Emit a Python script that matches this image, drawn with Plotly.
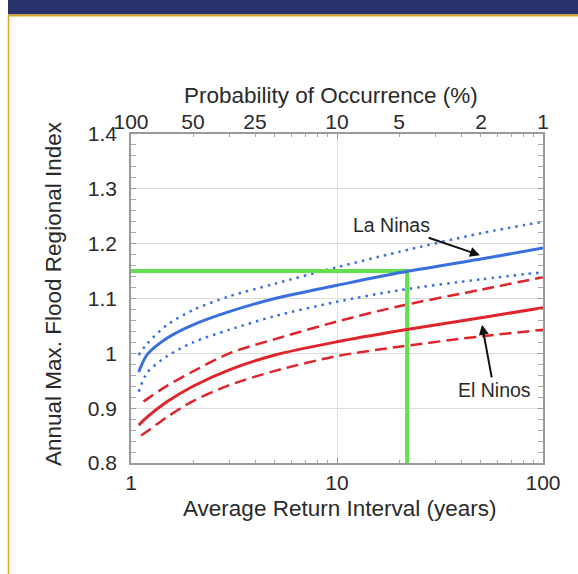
import plotly.graph_objects as go

# ---- data ----
T_grid = [1.09, 1.2, 1.5, 2, 3, 5, 10, 20, 50, 100]
la_nina_mid = [0.966, 0.998, 1.028, 1.052, 1.076, 1.100, 1.124, 1.147, 1.172, 1.192]
la_nina_up = [0.997, 1.018, 1.052, 1.079, 1.104, 1.127, 1.157, 1.185, 1.219, 1.240]
la_nina_lo = [0.930, 0.965, 0.995, 1.020, 1.043, 1.068, 1.094, 1.115, 1.135, 1.148]
el_nino_mid = [0.869, 0.884, 0.912, 0.940, 0.970, 0.997, 1.021, 1.041, 1.065, 1.083]
T_en_up = [1.15, 1.2, 1.5, 2, 3, 5, 10, 20, 50, 100]
el_nino_up = [0.912, 0.917, 0.941, 0.967, 1.000, 1.026, 1.058, 1.086, 1.116, 1.139]
T_en_lo = [1.12, 1.2, 1.5, 2, 3, 5, 10, 20, 50, 100]
el_nino_lo = [0.850, 0.858, 0.884, 0.913, 0.942, 0.968, 0.995, 1.012, 1.031, 1.043]

guide_T = 21.9
guide_level = 1.15

prob_vals = [1, 2, 4, 10, 20, 50, 100]
prob_text = ["100", "50", "25", "10", "5", "2", "1"]
y_ticks = [0.8, 0.9, 1.0, 1.1, 1.2, 1.3, 1.4]
y_text = ["0.8", "0.9", "1", "1.1", "1.2", "1.3", "1.4"]

BLUE = "#3a6fe0"
RED = "#e0242c"
GREEN = "#62e050"
FONT = "Liberation Sans, Arial, sans-serif"
TXT = "#2a2a2a"

fig = go.Figure()
fig.add_trace(go.Scatter(x=T_grid, y=la_nina_up, mode="lines",
                         line=dict(color=BLUE, width=2.5, dash="2.5px,5px", shape="spline", smoothing=0.8)))
fig.add_trace(go.Scatter(x=T_grid, y=la_nina_lo, mode="lines",
                         line=dict(color=BLUE, width=2.5, dash="2.5px,5px", shape="spline", smoothing=0.8)))
fig.add_trace(go.Scatter(x=T_en_up, y=el_nino_up, mode="lines",
                         line=dict(color=RED, width=2.5, dash="12px,6px", shape="spline", smoothing=0.8)))
fig.add_trace(go.Scatter(x=T_en_lo, y=el_nino_lo, mode="lines",
                         line=dict(color=RED, width=2.5, dash="12px,6px", shape="spline", smoothing=0.8)))
fig.add_trace(go.Scatter(x=[1, guide_T, guide_T], y=[guide_level, guide_level, 0.8],
                         mode="lines", line=dict(color=GREEN, width=4)))
fig.add_trace(go.Scatter(x=T_grid, y=la_nina_mid, mode="lines",
                         line=dict(color=BLUE, width=3, shape="spline", smoothing=0.8)))
fig.add_trace(go.Scatter(x=T_grid, y=el_nino_mid, mode="lines",
                         line=dict(color=RED, width=3, shape="spline", smoothing=0.8)))
# invisible trace to activate top axis
fig.add_trace(go.Scatter(x=[1, 100], y=[0.8, 0.8], xaxis="x2", mode="lines",
                         line=dict(width=0), opacity=0, hoverinfo="skip"))

# plot area in pixels: x 131..543, y 134..463
L, R, TOP, BOT = 131, 543, 134, 463
W, H = 578, 574
pw, ph = R - L, BOT - TOP


def px(x):
    return (x - L) / pw


def py(y):
    return (BOT - y) / ph


fig.update_layout(
    width=W, height=H,
    margin=dict(l=L, r=W - R, t=TOP, b=H - BOT, pad=0),
    paper_bgcolor="white", plot_bgcolor="white",
    showlegend=False,
    font=dict(family=FONT, color=TXT, size=21),
    xaxis=dict(type="log", range=[0, 2], tickvals=[1, 10, 100], ticktext=["1", "10", "100"],
               showline=True, linecolor="#9a9a9a", linewidth=1.5, mirror="allticks",
               ticks="inside", ticklen=5, tickcolor="#9a9a9a",
               showgrid=True, gridcolor="#dcdcdc", gridwidth=1,
               minor=dict(ticks="inside", ticklen=3, tickcolor="#aaaaaa",
                          tickvals=[2, 3, 4, 5, 6, 7, 8, 9, 20, 30, 40, 50, 60, 70, 80, 90],
                          showgrid=False),
               zeroline=False, tickfont=dict(size=21)),
    xaxis2=dict(type="log", range=[0, 2], overlaying="x", side="top",
                tickvals=prob_vals, ticktext=prob_text, ticks="",
                showgrid=False, showline=False, zeroline=False, tickfont=dict(size=21)),
    yaxis=dict(range=[0.8, 1.4], tickvals=y_ticks, ticktext=y_text,
               showline=True, linecolor="#9a9a9a", linewidth=1.5, mirror="allticks",
               ticks="inside", ticklen=5, tickcolor="#9a9a9a",
               showgrid=True, gridcolor="#dcdcdc", gridwidth=1,
               minor=dict(ticks="inside", ticklen=3, tickcolor="#aaaaaa", dtick=0.02,
                          showgrid=False),
               ticklabelstandoff=8,
               zeroline=False, tickfont=dict(size=21)),
)

# frame / banner decoration
fig.add_shape(type="rect", xref="paper", yref="paper",
              x0=px(8), x1=px(W + 5), y0=py(14.5), y1=py(-5),
              fillcolor="#27336a", line=dict(width=0), layer="above")
fig.add_shape(type="line", xref="paper", yref="paper",
              x0=px(8), x1=px(W + 5), y0=py(15.5), y1=py(15.5),
              line=dict(color="#d9a820", width=2))
fig.add_shape(type="line", xref="paper", yref="paper",
              x0=px(8.5), x1=px(8.5), y0=py(15), y1=py(H + 5),
              line=dict(color="#d9a820", width=1.5))

# titles
fig.add_annotation(text="Average Return Interval (years)", xref="paper", yref="paper",
                   x=px(339), y=py(508), showarrow=False, xanchor="center", yanchor="middle",
                   font=dict(size=22.5))
fig.add_annotation(text="Probability of Occurrence (%)", xref="paper", yref="paper",
                   x=px(331), y=py(96), showarrow=False, xanchor="center", yanchor="middle",
                   font=dict(size=22.5))
fig.add_annotation(text="Annual Max. Flood Regional Index", xref="paper", yref="paper",
                   x=px(53), y=py(294), showarrow=False, xanchor="center", yanchor="middle",
                   textangle=-90, font=dict(size=22.5))

# callouts
fig.add_annotation(text="La Ninas", x=1.694, y=1.179, xref="x", yref="y",
                   ax=-88, ay=-30, axref="pixel", ayref="pixel",
                   showarrow=True, arrowhead=2, arrowsize=1, arrowwidth=2, arrowcolor="#111111",
                   font=dict(size=19.5), bgcolor="rgba(0,0,0,0)")
fig.add_annotation(text="El Ninos", x=1.704, y=1.052, xref="x", yref="y",
                   ax=12, ay=65, axref="pixel", ayref="pixel",
                   showarrow=True, arrowhead=2, arrowsize=1, arrowwidth=2, arrowcolor="#111111",
                   font=dict(size=19.5), bgcolor="rgba(0,0,0,0)")

fig.write_html("out.html", config={"displayModeBar": False},
               post_script="document.body.style.margin='0';document.body.style.overflow='hidden';")
